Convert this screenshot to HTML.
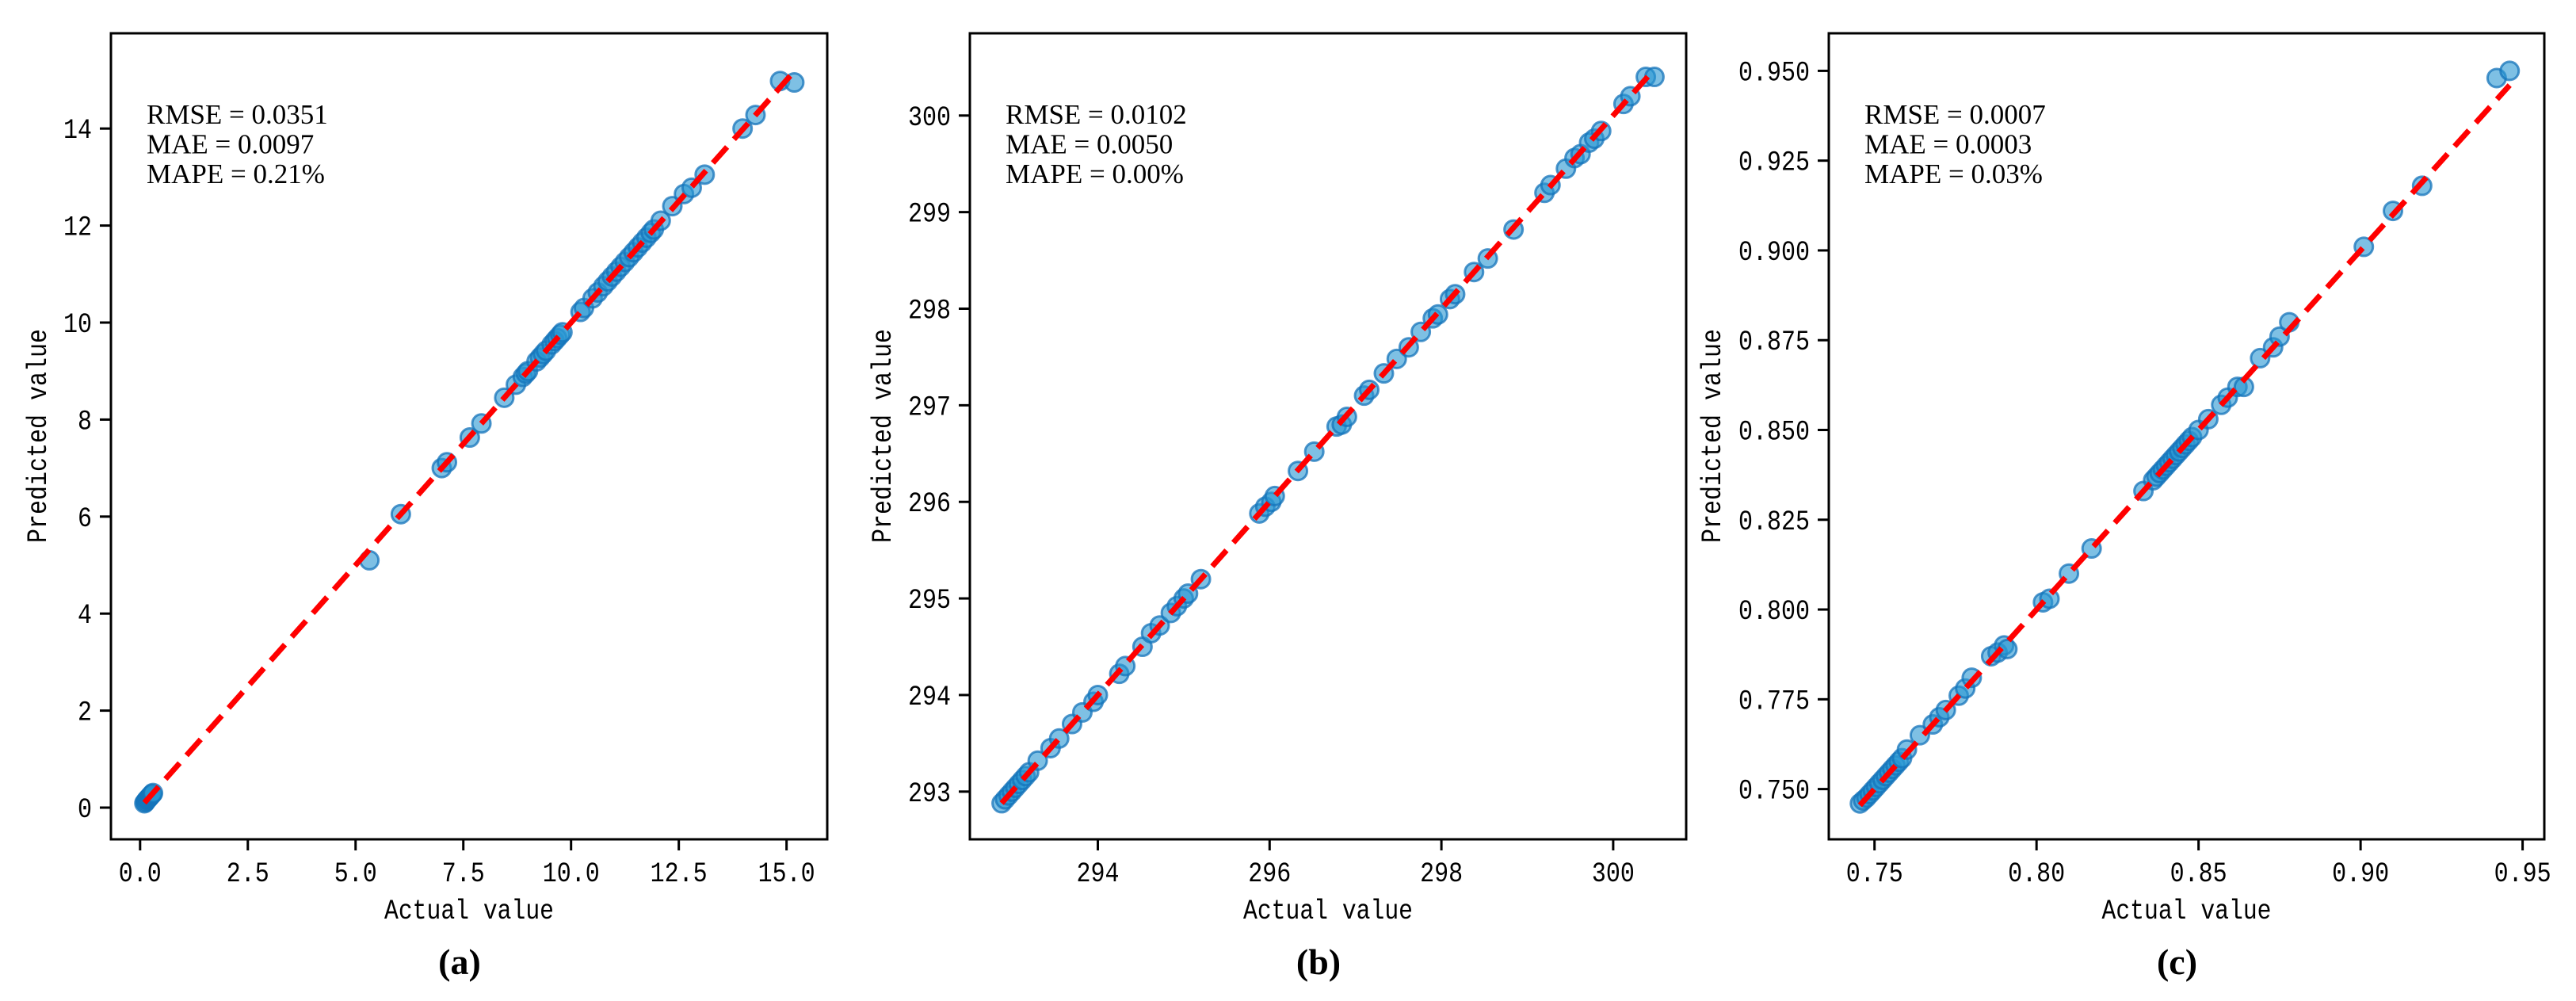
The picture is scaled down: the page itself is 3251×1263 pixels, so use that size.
<!DOCTYPE html>
<html><head><meta charset="utf-8"><style>
html,body{margin:0;padding:0;background:#fff;}
svg{display:block;}
.tick{font-family:"Liberation Mono","WenQuanYi Zen Hei",monospace;font-size:35px;fill:#000;}
.axlab{font-family:"Liberation Mono","WenQuanYi Zen Hei",monospace;font-size:35px;fill:#000;}
.ann{font-family:"Liberation Serif",serif;font-size:35px;fill:#000;}
.cap{font-family:"Liberation Serif",serif;font-size:46px;font-weight:bold;fill:#000;}
</style></head><body>
<svg id="fig" xmlns="http://www.w3.org/2000/svg" width="3251" height="1263" viewBox="0 0 3251 1263">
<rect width="3251" height="1263" fill="#fff"/>
</svg>
<script>
// ---- Panel (a) data ----
const actualA = [0.10,0.12,0.14,0.16,0.18,0.20,0.22,0.24,0.26,0.28,0.30,5.32,6.05,7.00,7.12,7.65,7.92,8.45,8.72,8.88,8.95,9.00,9.20,9.28,9.35,9.42,9.55,9.62,9.68,9.75,9.80,10.22,10.30,10.50,10.62,10.75,10.85,10.95,11.05,11.15,11.25,11.35,11.45,11.55,11.65,11.75,11.85,11.92,12.08,12.35,12.62,12.80,13.10,13.98,14.28,14.85,15.18];
const predA   = [0.09,0.11,0.14,0.16,0.18,0.20,0.22,0.24,0.26,0.28,0.30,5.10,6.05,7.00,7.12,7.63,7.92,8.45,8.72,8.88,8.95,9.00,9.20,9.28,9.35,9.42,9.55,9.62,9.68,9.75,9.80,10.22,10.30,10.50,10.62,10.75,10.85,10.95,11.05,11.15,11.25,11.35,11.45,11.55,11.65,11.75,11.85,11.92,12.10,12.40,12.65,12.78,13.05,14.00,14.28,14.98,14.95];
const xTicksA = [0,2.5,5,7.5,10,12.5,15];
const xTickLabelsA = ["0.0","2.5","5.0","7.5","10.0","12.5","15.0"];
const yTicksA = [0,2,4,6,8,10,12,14];
const yTickLabelsA = ["0","2","4","6","8","10","12","14"];
// ---- Panel (b) data ----
const actualB = [292.88,292.92,292.96,293.00,293.04,293.08,293.12,293.16,293.20,293.30,293.45,293.55,293.70,293.82,293.95,294.00,294.25,294.32,294.52,294.62,294.72,294.85,294.92,295.00,295.05,295.20,295.88,295.95,296.02,296.06,296.33,296.52,296.78,296.84,296.90,297.10,297.16,297.33,297.48,297.62,297.76,297.90,297.96,298.10,298.16,298.38,298.54,298.84,299.20,299.27,299.45,299.55,299.62,299.72,299.78,299.86,300.12,300.20,300.38,300.48];
const predB   = [292.88,292.92,292.96,293.00,293.04,293.08,293.12,293.16,293.20,293.32,293.45,293.55,293.70,293.82,293.93,294.00,294.22,294.30,294.50,294.64,294.72,294.85,294.92,295.00,295.05,295.20,295.88,295.95,296.00,296.06,296.32,296.52,296.78,296.80,296.88,297.10,297.16,297.33,297.48,297.60,297.76,297.90,297.94,298.10,298.15,298.38,298.52,298.82,299.20,299.28,299.45,299.56,299.60,299.72,299.76,299.84,300.12,300.20,300.40,300.40];
const xTicksB = [294,296,298,300];
const xTickLabelsB = ["294","296","298","300"];
const yTicksB = [293,294,295,296,297,298,299,300];
const yTickLabelsB = ["293","294","295","296","297","298","299","300"];
// ---- Panel (c) data ----
const actualC = [0.7455,0.7465,0.7475,0.7485,0.7495,0.7505,0.7515,0.7525,0.7535,0.7545,0.7555,0.7565,0.7575,0.7585,0.760,0.764,0.768,0.770,0.772,0.776,0.778,0.780,0.786,0.788,0.790,0.791,0.802,0.804,0.810,0.817,0.833,0.836,0.837,0.838,0.839,0.840,0.841,0.842,0.843,0.844,0.845,0.846,0.847,0.848,0.850,0.853,0.857,0.859,0.862,0.864,0.869,0.873,0.875,0.878,0.901,0.910,0.919,0.942,0.946];
const predC   = [0.7460,0.7468,0.7476,0.7486,0.7496,0.7506,0.7516,0.7526,0.7536,0.7546,0.7556,0.7566,0.7576,0.7586,0.761,0.765,0.768,0.770,0.772,0.776,0.778,0.781,0.787,0.788,0.790,0.789,0.802,0.803,0.810,0.817,0.833,0.836,0.837,0.838,0.839,0.840,0.841,0.842,0.843,0.844,0.845,0.846,0.847,0.848,0.850,0.853,0.857,0.859,0.862,0.862,0.870,0.873,0.876,0.880,0.901,0.911,0.918,0.948,0.950];
const xTicksC = [0.75,0.80,0.85,0.90,0.95];
const xTickLabelsC = ["0.75","0.80","0.85","0.90","0.95"];
const yTicksC = [0.750,0.775,0.800,0.825,0.850,0.875,0.900,0.925,0.950];
const yTickLabelsC = ["0.750","0.775","0.800","0.825","0.850","0.875","0.900","0.925","0.950"];
const metricsA = ["RMSE = 0.0351","MAE = 0.0097","MAPE = 0.21%"];
const metricsB = ["RMSE = 0.0102","MAE = 0.0050","MAPE = 0.00%"];
const metricsC = ["RMSE = 0.0007","MAE = 0.0003","MAPE = 0.03%"];

const NS="http://www.w3.org/2000/svg";
const svg=document.getElementById('fig');
function mk(tag,attrs,parent){const e=document.createElementNS(NS,tag);for(const k in attrs)e.setAttribute(k,attrs[k]);(parent||svg).appendChild(e);return e;}

function panel(cfg){
  const g=mk('g',{});
  
  
  const L=cfg.L,R=cfg.R,T=42,B=1059;
  const sx=v=>cfg.x0px+(v-cfg.x0)*cfg.kx;
  const sy=v=>cfg.y0px-(v-cfg.y0)*cfg.ky;
  const clip='clip-'+cfg.name;
  const cp=mk('clipPath',{id:clip},g);mk('rect',{x:L,y:T,width:R-L,height:B-T},cp);
  const pts=mk('g',{'clip-path':'url(#'+clip+')'},g);
  
  
  cfg.ax.forEach((a,i)=>{
    const c=mk('circle',{cx:sx(a),cy:sy(cfg.py[i]),r:11.5,fill:'rgb(40,150,210)','fill-opacity':0.6,stroke:'rgb(20,115,185)','stroke-opacity':0.75,'stroke-width':3},pts);
    
    
  });
  const mn=Math.min(...cfg.ax),mx=Math.max(...cfg.ax);
  const ln=mk('line',{x1:sx(mn),y1:sy(mn),x2:sx(mx),y2:sy(mx),stroke:'#ff0000','stroke-width':7,'stroke-dasharray':'27,13'},pts);
  
  
  const fr=mk('rect',{x:L,y:T,width:R-L,height:B-T,fill:'none',stroke:'#000','stroke-width':3},g);
  
  
  cfg.xt.forEach((v,i)=>{
    const x=sx(v);
    const t=mk('line',{x1:x,y1:B,x2:x,y2:B+14,stroke:'#000','stroke-width':3},g);
    
    
    const tx=mk('text',{x:x,y:1112,'text-anchor':'middle',class:'tick',textLength:cfg.xl[i].length*18,lengthAdjust:'spacingAndGlyphs'},g);
    tx.textContent=cfg.xl[i];
    
    
  });
  cfg.yt.forEach((v,i)=>{
    const y=sy(v);
    const t=mk('line',{x1:L-14,y1:y,x2:L,y2:y,stroke:'#000','stroke-width':3},g);
    
    
    const tx=mk('text',{x:L-24,y:y+12,'text-anchor':'end',class:'tick',textLength:cfg.yl[i].length*18,lengthAdjust:'spacingAndGlyphs'},g);
    tx.textContent=cfg.yl[i];
    
    
  });
  const xl=mk('text',{x:(L+R)/2,y:1159,'text-anchor':'middle',class:'axlab',textLength:214,lengthAdjust:'spacingAndGlyphs'},g);
  xl.textContent='Actual value';
  
  
  const yl=mk('text',{x:0,y:0,'text-anchor':'middle',class:'axlab',textLength:270,lengthAdjust:'spacingAndGlyphs',transform:'translate('+(cfg.ylx+12)+',550) rotate(-90)'},g);
  yl.textContent='Predicted value';
  
  
  cfg.m.forEach((s,i)=>{
    const t=mk('text',{x:L+45,y:156+i*37.5,class:'ann'},g);
    t.textContent=s;
    
    
  });
  const cap=mk('text',{x:(L+R)/2-12,y:1229,'text-anchor':'middle',class:'cap'},g);
  cap.textContent=cfg.cap;
  
  
}
panel({name:'panel-a',L:140,R:1044,x0:0,x0px:176.8,kx:54.39,y0:0,y0px:1019,ky:61.2,ax:actualA,py:predA,xt:xTicksA,xl:xTickLabelsA,yt:yTicksA,yl:yTickLabelsA,ylx:46,m:metricsA,cap:'(a)'});
panel({name:'panel-b',L:1224,R:2128,x0:294,x0px:1385.5,kx:108.4,y0:293,y0px:998.8,ky:121.86,ax:actualB,py:predB,xt:xTicksB,xl:xTickLabelsB,yt:yTicksB,yl:yTickLabelsB,ylx:1112,m:metricsB,cap:'(b)'});
panel({name:'panel-c',L:2308,R:3211,x0:0.75,x0px:2365.7,kx:4089.5,y0:0.75,y0px:995.6,ky:4531,ax:actualC,py:predC,xt:xTicksC,xl:xTickLabelsC,yt:yTicksC,yl:yTickLabelsC,ylx:2159,m:metricsC,cap:'(c)'});
</script>
</body></html>
